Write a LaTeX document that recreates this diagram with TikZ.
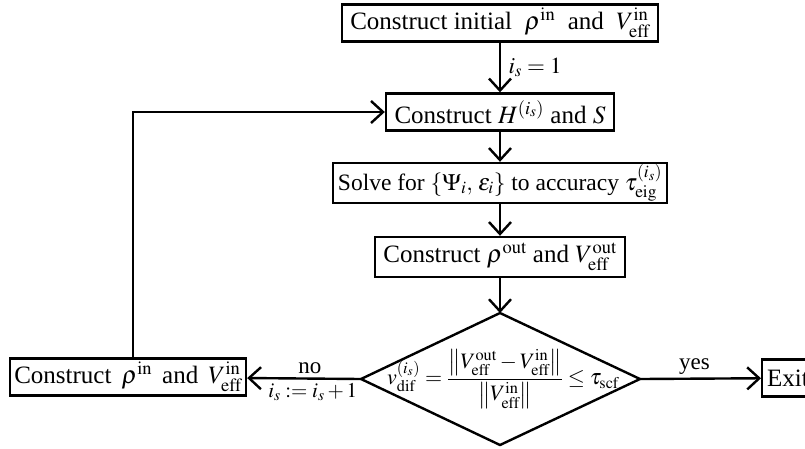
\documentclass[tikz,border=0pt]{standalone}
\usepackage{mathptmx}
\usepackage[no-math]{fontspec}
\setmainfont{Liberation Serif}
\usetikzlibrary{arrows.meta}
\begin{document}
\begin{tikzpicture}[x=1pt,y=-1pt,
  every node/.style={font=\fontsize{25}{29}\selectfont},
  box/.style={draw, line width=2.4pt, inner sep=0pt, minimum height=37pt},
  conn/.style={line width=2.4pt, -{Straight Barb[length=12pt,width=22pt]}},
  plain/.style={line width=2.4pt},
  lbl/.style={font=\fontsize{23}{27}\selectfont}]
\useasboundingbox (0,0) rectangle (805,448);
\clip (0,0) rectangle (805,448);
\node[box, minimum width=316pt] (b1) at (500,23) {Construct initial\ \ $\rho^{\mathrm{in}}$\ \ and\ \ $V^{\mathrm{in}}_{\mathrm{eff}}$};
\node[box, minimum width=228pt] (b2) at (500,112) {Construct $H^{(i_s)}$ and $S$};
\node[box, minimum width=334pt, minimum height=40pt, font=\fontsize{23.5}{27}\selectfont] (b3) at (500,183) {Solve for $\{\Psi_i,\,\varepsilon_i\}$ to accuracy $\tau^{(i_s)}_{\mathrm{eig}}$};
\node[box, minimum width=250pt, minimum height=40pt] (b4) at (500,257) {Construct\ $\rho^{\mathrm{out}}$ and $V^{\mathrm{out}}_{\mathrm{eff}}$};
\coordinate (dT) at (500,313);
\coordinate (dR) at (640,379);
\coordinate (dB) at (500,445);
\coordinate (dL) at (361,379);
\draw[plain, line join=miter] (dT) -- (dR) -- (dB) -- (dL) -- cycle;
\node[font=\fontsize{22}{26}\selectfont] (f) at (503,379) {$v^{(i_s)}_{\mathrm{dif}} = {\displaystyle\frac{\left\| V^{\mathrm{out}}_{\mathrm{eff}} - V^{\mathrm{in}}_{\mathrm{eff}}\right\|}{\left\| V^{\mathrm{in}}_{\mathrm{eff}}\right\|}} \le \tau_{\mathrm{scf}}$};
\node[box, minimum width=236pt] (lb) at (128,377) {Construct\hspace{0.4em}$\rho^{\mathrm{in}}$\hspace{0.4em}and\hspace{0.4em}$V^{\mathrm{in}}_{\mathrm{eff}}$};
\node[box, anchor=west, text width=70pt, align=left, inner xsep=5pt] (ex) at (761,378) {Exit};
\draw[conn] (b1) -- (b2) node[lbl, pos=0.5, anchor=west, xshift=4pt] (l1) {$i_s = 1$};
\draw[conn] (b2) -- (b3);
\draw[conn] (b3) -- (b4);
\draw[conn] (b4) -- (dT);
\draw[conn] (dL) -- (lb) node[lbl, pos=0.45, above] (lno) {no} node[lbl, font=\fontsize{21}{25}\selectfont, pos=0.45, below, xshift=3pt] (linc) {$i_s := i_s + 1$};
\draw[conn] (dR) -- (ex) node[lbl, pos=0.45, above] (lyes) {yes};
\draw[conn] ([xshift=5pt]lb.north) |- (b2.west);
\end{tikzpicture}
\end{document}
